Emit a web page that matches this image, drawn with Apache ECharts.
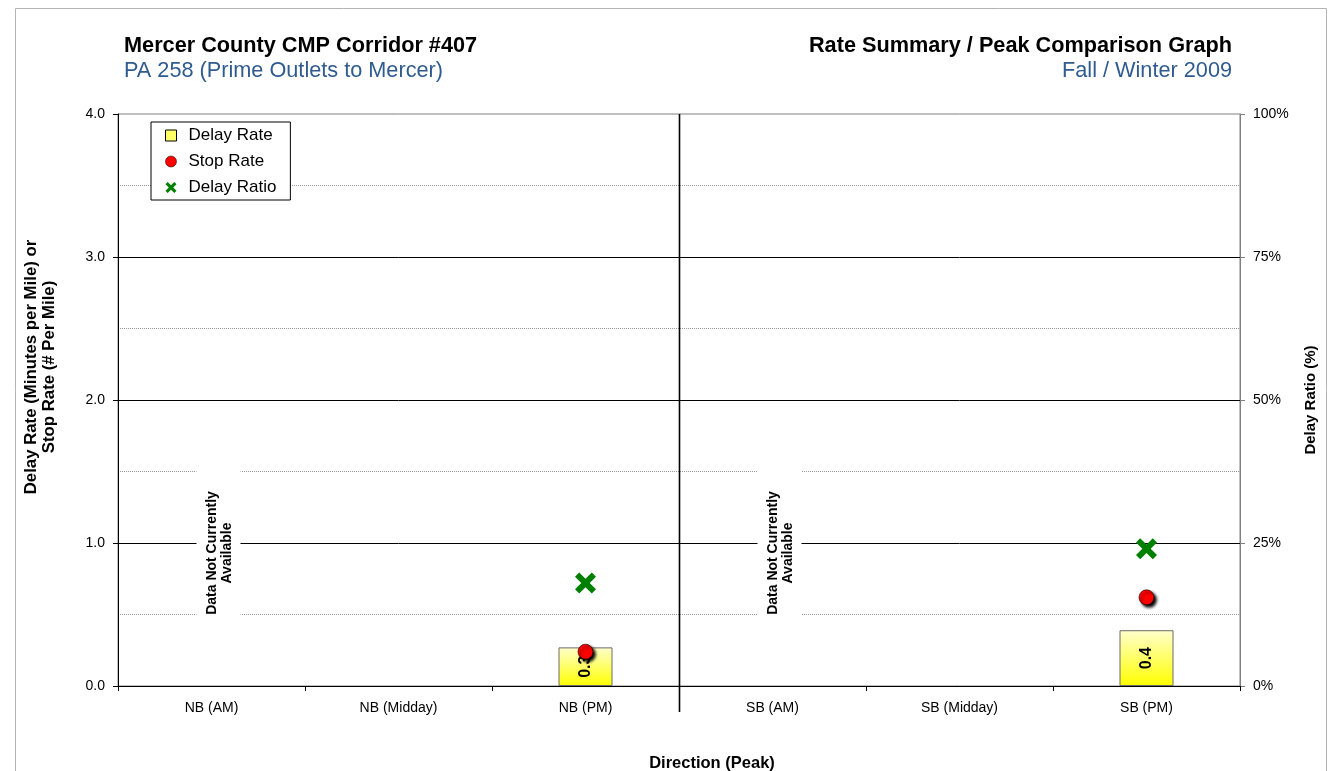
<!DOCTYPE html>
<html>
<head>
<meta charset="utf-8">
<title>Mercer County CMP Corridor #407</title>
<script src="https://cdn.jsdelivr.net/npm/echarts@6/dist/echarts.min.js"></script>
<style>
  html, body { margin: 0; padding: 0; background: #fff; }
  #chart { width: 1335px; height: 771px; }
</style>
</head>
<body>
<div id="chart"></div>
<script>
// Peak periods along the corridor
const categories = ['NB (AM)', 'NB (Midday)', 'NB (PM)', 'SB (AM)', 'SB (Midday)', 'SB (PM)'];
// Delay rate, minutes per mile
const delayRate = [null, null, 0.27, null, null, 0.39];
// Stop rate, stops per mile
const stopRate = [null, null, 0.24, null, null, 0.62];
// Delay ratio, percent
const delayRatio = [null, null, 18, null, null, 24];
// Periods without collected data
const unavailable = ['NB (AM)', 'SB (AM)'];
const unavailableText = 'Data Not Currently\nAvailable';
// Left and right axis tick labels
const leftTicks = { min: 0, max: 4, step: 1 };
const rightTicks = { min: 0, max: 100, step: 25 };

const FONT = 'Arial, "Liberation Sans", sans-serif';
const TITLE_BLUE = '#2F5B8F';
const X_PATH = 'path://M0,4 L4,0 L10,6 L16,0 L20,4 L14,10 L20,16 L16,20 L10,14 L4,20 L0,16 L6,10 Z';

const chart = echarts.init(document.getElementById('chart'), null, { renderer: 'canvas' });

const option = {
  backgroundColor: '#fff',
  animation: false,
  textStyle: { fontFamily: FONT },
  legend: {
    orient: 'vertical',
    left: 151, top: 122,
    padding: [5, 14, 4, 14],
    itemGap: 9,
    itemWidth: 11, itemHeight: 11,
    borderColor: '#000', borderWidth: 1,
    backgroundColor: '#fff',
    selectedMode: false,
    textStyle: { fontFamily: FONT, fontSize: 17, color: '#000', padding: [0, 0, 0, 7] },
    data: [
      { name: 'Delay Rate', icon: 'rect', itemStyle: { color: '#FFFF66', borderColor: '#000', borderWidth: 1 } },
      { name: 'Stop Rate', icon: 'circle', itemStyle: { color: '#FF0000', borderColor: '#000', borderWidth: 0.5, shadowBlur: 0, shadowOffsetX: 0, shadowOffsetY: 0, opacity: 1 } },
      { name: 'Delay Ratio', icon: X_PATH, itemStyle: { color: '#008000', opacity: 1 } }
    ]
  },
  grid: {
    left: 118, right: 95, top: 114, bottom: 85,
    show: true, borderColor: '#808080', borderWidth: 1, backgroundColor: 'transparent'
  },
  xAxis: {
    type: 'category',
    data: categories,
    boundaryGap: true,
    axisLine: { lineStyle: { color: '#000', width: 1 } },
    axisTick: { show: true, interval: 0, length: 5, lineStyle: { color: '#000' } },
    axisLabel: { interval: 0, margin: 15, fontFamily: FONT, fontSize: 14, color: '#000' },
    splitLine: { show: false }
  },
  yAxis: [
    {
      type: 'value',
      min: leftTicks.min, max: leftTicks.max, interval: leftTicks.step,
      position: 'left',
      axisLine: { show: true, lineStyle: { color: '#000', width: 1 } },
      axisTick: { show: true, length: 5, lineStyle: { color: '#000' } },
      axisLabel: { margin: 13, fontFamily: FONT, fontSize: 14, color: '#000', formatter: v => v.toFixed(1) },
      splitLine: { show: true, showMaxLine: false, lineStyle: { color: '#000', width: 1 } },
      minorTick: { show: false, splitNumber: 2 },
      minorSplitLine: { show: true, lineStyle: { color: '#9a9a9a', width: 1, type: 'dotted' } }
    },
    {
      type: 'value',
      min: rightTicks.min, max: rightTicks.max, interval: rightTicks.step,
      position: 'right',
      name: 'Delay Ratio (%)',
      nameLocation: 'middle',
      nameRotate: 90,
      nameGap: 63,
      nameTextStyle: { fontFamily: FONT, fontSize: 15, fontWeight: 'bold', color: '#000' },
      axisLine: { show: true, lineStyle: { color: '#808080', width: 1 } },
      axisTick: { show: true, length: 5, lineStyle: { color: '#808080' } },
      axisLabel: { margin: 13, fontFamily: FONT, fontSize: 14, color: '#000', formatter: '{value}%' },
      splitLine: { show: false }
    }
  ],
  series: [
    {
      name: 'Delay Rate',
      type: 'bar',
      data: delayRate,
      barWidth: 54,
      yAxisIndex: 0,
      itemStyle: {
        color: new echarts.graphic.LinearGradient(0, 0, 0, 1, [
          { offset: 0, color: '#FFFFCC' },
          { offset: 1, color: '#FFFF00' }
        ]),
        borderColor: '#6b6b6b',
        borderWidth: 1
      },
      label: {
        show: true,
        position: 'inside',
        rotate: 90,
        fontFamily: FONT,
        fontSize: 16,
        fontWeight: 'bold',
        color: '#000',
        formatter: p => p.value.toFixed(1)
      }
    },
    {
      name: 'Stop Rate',
      type: 'scatter',
      data: stopRate,
      yAxisIndex: 0,
      symbol: 'circle',
      symbolSize: 15,
      z: 4,
      itemStyle: {
        color: '#FF0000',
        opacity: 1,
        borderColor: '#000',
        borderWidth: 0.6,
        shadowColor: 'rgba(0,0,0,1)',
        shadowBlur: 3,
        shadowOffsetX: 2.5,
        shadowOffsetY: 2.5
      }
    },
    {
      name: 'Delay Ratio',
      type: 'scatter',
      data: delayRatio,
      yAxisIndex: 1,
      symbol: X_PATH,
      symbolSize: 21,
      z: 4,
      itemStyle: { color: '#008000', opacity: 1 }
    },
    {
      name: 'Unavailable',
      type: 'custom',
      yAxisIndex: 0,
      z: 3,
      silent: true,
      data: unavailable.map(c => [c, 0.93]),
      renderItem: function (params, api) {
        const p = api.coord([api.value(0), api.value(1)]);
        const cx = p[0] + 8;
        return {
          type: 'group',
          children: [
            {
              type: 'rect',
              shape: { x: cx - 23, y: p[1] - 92, width: 44, height: 184 },
              style: { fill: '#fff' }
            },
            {
              type: 'text',
              x: cx, y: p[1],
              rotation: Math.PI / 2,
              style: {
                text: unavailableText,
                align: 'center',
                verticalAlign: 'middle',
                font: 'bold 14px ' + FONT,
                lineHeight: 15,
                fill: '#000'
              }
            }
          ]
        };
      }
    }
  ]
};

chart.setOption(option);

// Headings, frame, axis captions and the NB / SB divider
function drawExtras() {
  const xa = chart.convertToPixel({ xAxisIndex: 0 }, categories[2]);
  const xb = chart.convertToPixel({ xAxisIndex: 0 }, categories[3]);
  const yTop = chart.convertToPixel({ yAxisIndex: 0 }, leftTicks.max);
  const yBase = chart.convertToPixel({ yAxisIndex: 0 }, leftTicks.min);
  const xDiv = Math.round((xa + xb) / 2) + 0.5;
  const heading = (text, x, y, align, bold, color) => ({
    type: 'text', silent: true, x: x, y: y,
    style: {
      text: text, align: align, verticalAlign: 'middle',
      font: (bold ? 'bold ' : '') + '21.7px ' + FONT, fill: color
    }
  });
  chart.setOption({
    graphic: [
      {
        type: 'rect', silent: true, z: -1,
        shape: { x: 15.5, y: 8.5, width: 1311, height: 800 },
        style: { fill: 'none', stroke: '#b4b4b4', lineWidth: 1 }
      },
      heading('Mercer County CMP Corridor #407', 124, 46, 'left', true, '#000'),
      heading('PA 258 (Prime Outlets to Mercer)', 124, 71, 'left', false, TITLE_BLUE),
      heading('Rate Summary / Peak Comparison Graph', 1232, 46, 'right', true, '#000'),
      heading('Fall / Winter 2009', 1232, 71, 'right', false, TITLE_BLUE),
      {
        type: 'line', silent: true, z: 10,
        shape: { x1: xDiv, y1: yTop, x2: xDiv, y2: yBase + 26 },
        style: { stroke: '#000', lineWidth: 1.6 }
      },
      {
        type: 'text', silent: true,
        x: 40, y: 367, rotation: Math.PI / 2,
        style: {
          text: 'Delay Rate (Minutes per Mile) or\nStop Rate (# Per Mile)',
          align: 'center', verticalAlign: 'middle',
          font: 'bold 16.8px ' + FONT, lineHeight: 18, fill: '#000'
        }
      },
      {
        type: 'text', silent: true,
        x: 712, y: 763,
        style: {
          text: 'Direction (Peak)',
          align: 'center', verticalAlign: 'middle',
          font: 'bold 16.5px ' + FONT, fill: '#000'
        }
      }
    ]
  });
}
drawExtras();
</script>
</body>
</html>
